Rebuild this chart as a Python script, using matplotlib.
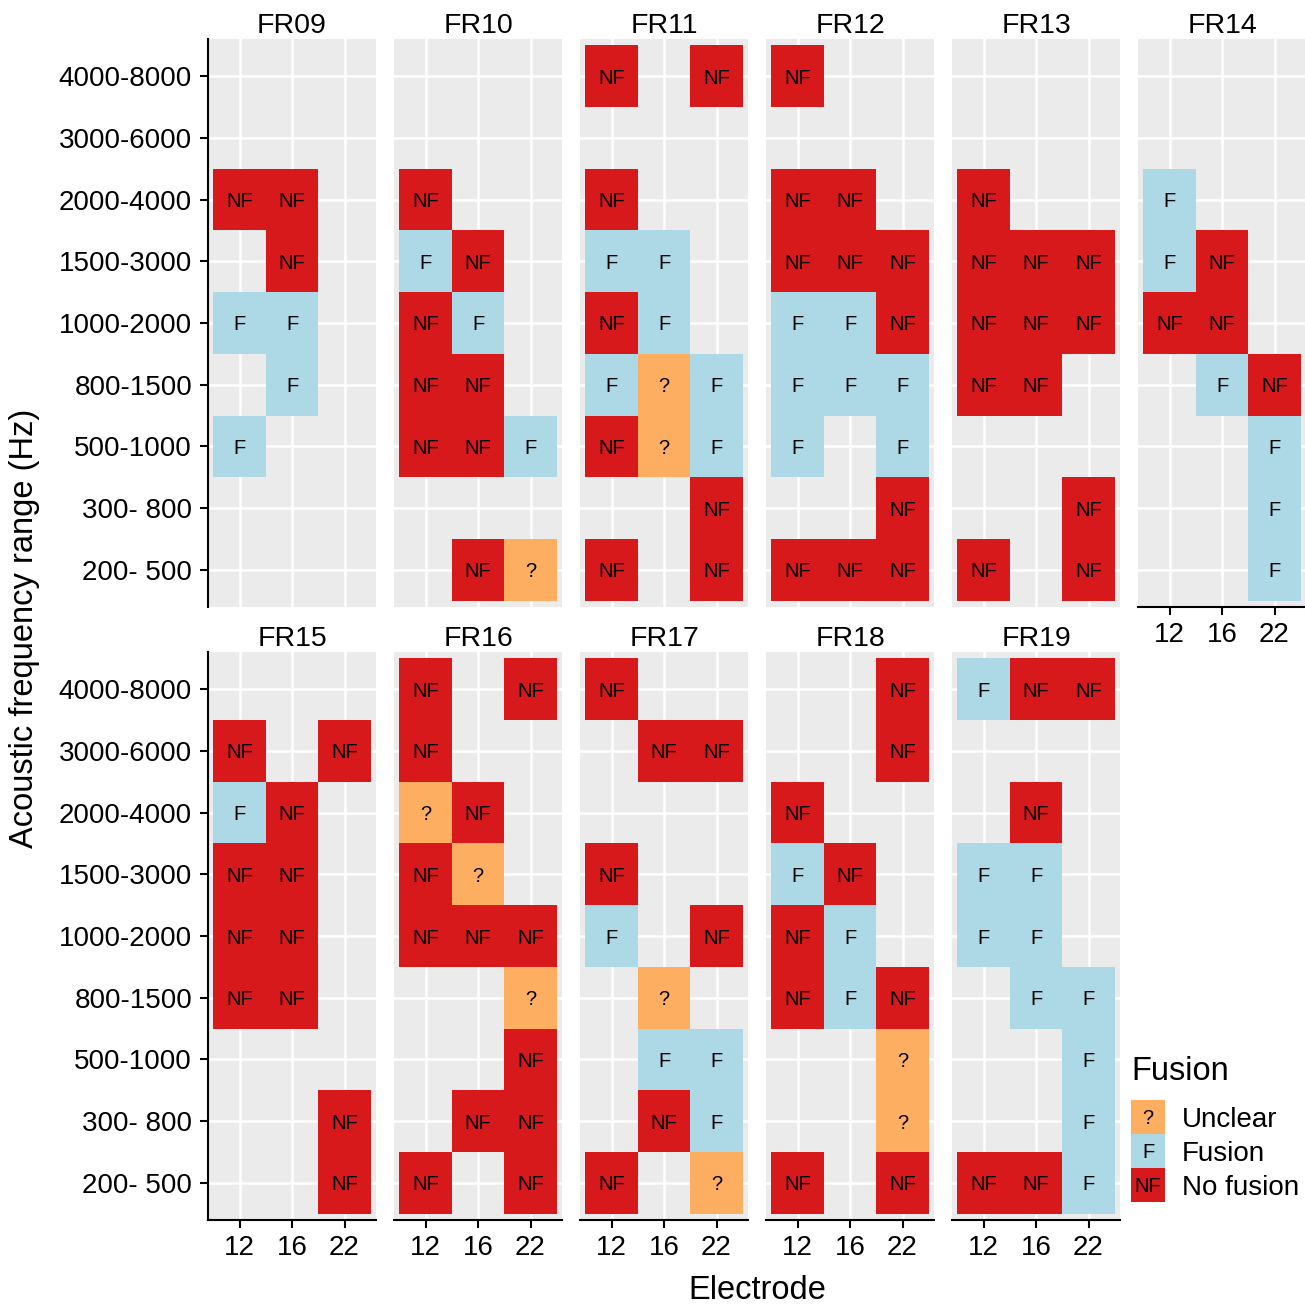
import matplotlib
matplotlib.use("Agg")
import matplotlib.pyplot as plt

plt.rcParams['font.family'] = ['Liberation Sans', 'DejaVu Sans']

# ---------------- data ----------------
electrodes = ['12', '16', '22']
# bottom -> top
freq_ranges = ['200- 500', '300- 800', '500-1000', '800-1500', '1000-2000',
               '1500-3000', '2000-4000', '3000-6000', '4000-8000']
subjects = ['FR09', 'FR10', 'FR11', 'FR12', 'FR13', 'FR14',
            'FR15', 'FR16', 'FR17', 'FR18', 'FR19']

# Rows listed from top (4000-8000) to bottom (200-500); columns = electrodes 12, 16, 22
# N = No fusion, F = Fusion, ? = Unclear, . = not tested
FR09 = ["...", "...", "NN.", ".N.", "FF.", ".F.", "F..", "...", "..."]
FR10 = ["...", "...", "N..", "FN.", "NF.", "NN.", "NNF", "...", ".N?"]
FR11 = ["N.N", "...", "N..", "FF.", "NF.", "F?F", "N?F", "..N", "N.N"]
FR12 = ["N..", "...", "NN.", "NNN", "FFN", "FFF", "F.F", "..N", "NNN"]
FR13 = ["...", "...", "N..", "NNN", "NNN", "NN.", "...", "..N", "N.N"]
FR14 = ["...", "...", "F..", "FN.", "NN.", ".FN", "..F", "..F", "..F"]
FR15 = ["...", "N.N", "FN.", "NN.", "NN.", "NN.", "...", "..N", "..N"]
FR16 = ["N.N", "N..", "?N.", "N?.", "NNN", "..?", "..N", ".NN", "N.N"]
FR17 = ["N..", ".NN", "...", "N..", "F.N", ".?.", ".FF", ".NF", "N.?"]
FR18 = ["..N", "..N", "N..", "FN.", "NF.", "NFN", "..?", "..?", "N.N"]
FR19 = ["FNN", "...", ".N.", "FF.", "FF.", ".FF", "..F", "..F", "NNF"]
grids = [FR09, FR10, FR11, FR12, FR13, FR14, FR15, FR16, FR17, FR18, FR19]

legend_codes = ['?', 'F', 'N']
legend_labels = ['Unclear', 'Fusion', 'No fusion']
code_text = {'N': 'NF', 'F': 'F', '?': '?'}
code_color = {'N': '#D7191C', 'F': '#ADD8E6', '?': '#FDAE61'}

# ---------------- figure ----------------
W, H = 1305, 1307
fig = plt.figure(figsize=(W / 100, H / 100), dpi=100)


def px_axes(x0, y0, w, h):
    return fig.add_axes([x0 / W, 1 - (y0 + h) / H, w / W, h / H])


PANEL_W, PANEL_H = 168, 568
lefts = [208 + 186 * i for i in range(6)]
tops = [39, 652]
TICK_FS = 20
TILE_FS = 14.5
AXLW = 1.5

for k, (name, grid) in enumerate(zip(subjects, grids)):
    r, c = divmod(k, 6)
    ax = px_axes(lefts[c], tops[r], PANEL_W, PANEL_H)
    ax.set_facecolor('#EBEBEB')
    xs, ys, cols, labs = [], [], [], []
    for ri, row in enumerate(grid):
        yv = len(freq_ranges) - 1 - ri
        for ci, code in enumerate(row):
            if code == '.':
                continue
            xs.append(ci)
            ys.append(yv)
            cols.append(code_color[code])
            labs.append(code_text[code])
    ax.bar(xs, 1.0, bottom=[y - 0.5 for y in ys], width=1.0, color=cols,
           linewidth=0, zorder=2)
    for x, y, t in zip(xs, ys, labs):
        ax.text(x, y, t, ha='center', va='center_baseline', fontsize=TILE_FS,
                color='black', zorder=3)
    ax.set_xlim(-0.6, len(electrodes) - 0.4)
    ax.set_ylim(-0.6, len(freq_ranges) - 0.4)
    ax.set_xticks(range(len(electrodes)))
    ax.set_xticklabels(electrodes)
    ax.set_yticks(range(len(freq_ranges)))
    ax.set_yticklabels(freq_ranges)
    ax.grid(True, color='white', linewidth=1.8)
    ax.set_axisbelow(True)
    for s in ax.spines.values():
        s.set_visible(False)
    show_x = (r == 1) or (c == 5)
    show_y = (c == 0)
    ax.tick_params(axis='x', length=5.5 if show_x else 0, width=AXLW,
                   labelbottom=show_x, labelsize=TICK_FS, pad=5.5, colors='black')
    ax.tick_params(axis='y', length=5.5 if show_y else 0, width=AXLW,
                   labelleft=show_y, labelsize=TICK_FS, pad=6, colors='black')
    if show_x:
        ax.spines['bottom'].set_visible(True)
        ax.spines['bottom'].set_linewidth(AXLW)
    if show_y:
        ax.spines['left'].set_visible(True)
        ax.spines['left'].set_linewidth(AXLW)
    ax.set_title(name, fontsize=20.5, pad=3)

# axis titles
fig.text(25 / W, 1 - 628 / H, 'Acoustic frequency range (Hz)', rotation=90,
         ha='center', va='center', fontsize=23.5)
fig.text(757 / W, 1 - 1299 / H, 'Electrode', ha='center', va='baseline', fontsize=23.5)

# legend
lax = px_axes(1131, 1100, 34, 102)
lax.set_xlim(0, 1)
lax.set_ylim(0, 3)
lax.axis('off')
for i, (code, lab) in enumerate(zip(legend_codes, legend_labels)):
    y = 2 - i
    lax.bar(0.5, 1.0, bottom=y, width=1.0, color=code_color[code], linewidth=0)
    lax.text(0.5, y + 0.5, code_text[code], ha='center', va='center_baseline',
             fontsize=TILE_FS)
    lax.text(1.5, y + 0.5, lab, ha='left', va='center_baseline', fontsize=20, clip_on=False)
fig.text(1131 / W, 1 - 1068 / H, 'Fusion', ha='left', va='center_baseline', fontsize=23.5)

fig.savefig('out.png', dpi=100)
